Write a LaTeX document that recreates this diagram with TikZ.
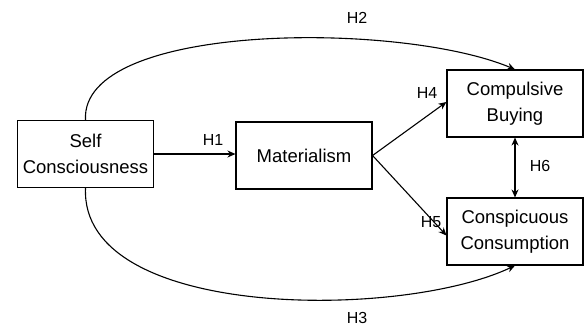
\documentclass[tikz,border=0pt]{standalone}
\usepackage{fontspec}
\setmainfont{Liberation Sans}
\usetikzlibrary{arrows.meta}
\begin{document}
\begin{tikzpicture}[x=1pt,y=-1pt,
  box/.style={draw,line width=1.1pt,minimum width=136pt,minimum height=67pt,inner sep=0pt,align=center,font=\fontsize{18.5}{26}\selectfont},
  lbl/.style={font=\fontsize{16}{19}\selectfont},
  arr/.style={line width=1.1pt,-{Stealth[length=8pt,width=7pt]}},
  darr/.style={line width=1.1pt,{Stealth[length=8pt,width=7pt]}-{Stealth[length=8pt,width=7pt]}}]
\useasboundingbox (0,0) rectangle (585,329);
\node[box] (self) at (85.5,154) {Self\\Consciousness};
\node[box] (mat) at (304,155.5) {Materialism};
\node[box] (cb) at (515,103.5) {Compulsive\\Buying};
\node[box] (cc) at (515,231.5) {Conspicuous\\Consumption};
\draw[arr] (self.east) -- (mat.west |- self.east);
\draw[arr] (mat.east) -- ([yshift=1.5pt]cb.west);
\draw[arr] (mat.east) -- ([yshift=-4pt]cc.west);
\draw[darr] (cb.south) -- (cc.north);
\draw[arr] (self.north) .. controls (80,22) and (400,21) .. (cb.north);
\draw[arr] (self.south) .. controls (80,320) and (400,320) .. (cc.south);
\node[lbl] (h1) at (213,140) {H1};
\node[lbl] (h2) at (357,18) {H2};
\node[lbl] (h3) at (357,318) {H3};
\node[lbl] (h4) at (427,93) {H4};
\node[lbl] (h5) at (431,222) {H5};
\node[lbl] (h6) at (540,166) {H6};
\end{tikzpicture}
\end{document}
